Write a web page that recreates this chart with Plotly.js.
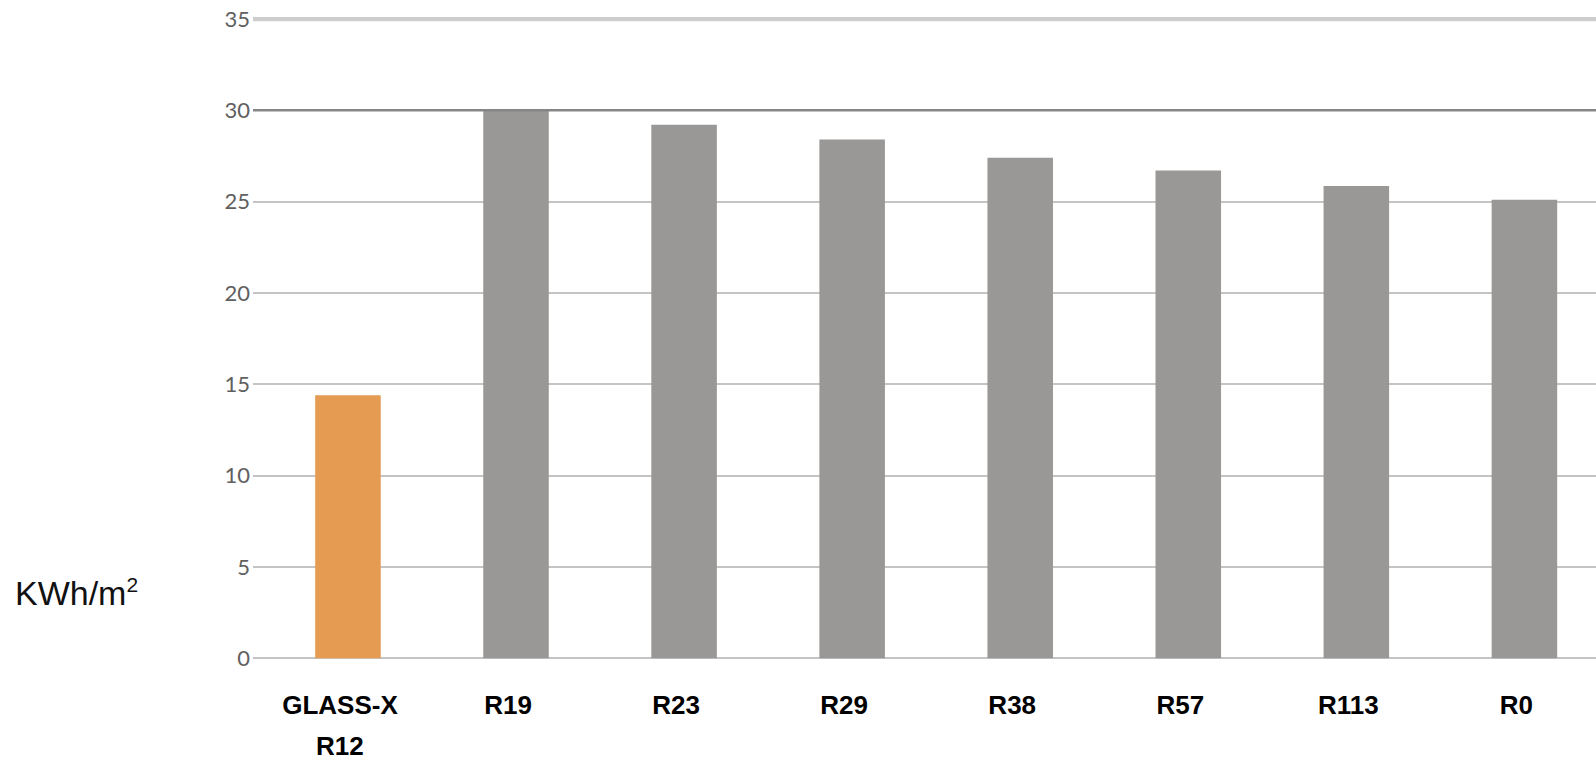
<!DOCTYPE html>
<html>
<head>
<meta charset="utf-8">
<script src="https://cdn.plot.ly/plotly-3.0.1.min.js"></script>
<style>
  html, body { margin: 0; padding: 0; background: #fff; }
  #chart { width: 1596px; height: 760px; }
</style>
</head>
<body>
<div id="chart"></div>
<script>
// ---- data ----
const categories = ['GLASS-X R12', 'R19', 'R23', 'R29', 'R38', 'R57', 'R113', 'R0'];
const tickLabels = ['GLASS-X', 'R19', 'R23', 'R29', 'R38', 'R57', 'R113', 'R0'];
const subLabels  = ['R12', '', '', '', '', '', '', ''];
const values     = [14.4, 30.0, 29.2, 28.4, 27.4, 26.7, 25.85, 25.1];
const yTickVals  = [0, 5, 10, 15, 20, 25, 30, 35];
const yUnitMain  = 'KWh/m';
const yUnitSup   = '2';

// ---- styles ----
const orange = '#E69B52';
const grey = '#9A9896';
const barColors = categories.map((c, i) => i === 0 ? orange : grey);
const labelFont = { family: 'Liberation Sans, Arial, sans-serif', size: 26, color: '#000' };

const trace = {
  type: 'bar',
  x: categories,
  y: values,
  marker: { color: barColors, line: { width: 0 } },
  hoverinfo: 'x+y'
};

const annotations = [{
  text: yUnitMain + '<span style="font-size:30px"><sup>' + yUnitSup + '</sup></span>',
  xref: 'paper', yref: 'paper',
  x: -0.179, y: 0.105,
  xanchor: 'left', yanchor: 'middle',
  showarrow: false,
  font: { family: 'Liberation Sans, Arial, sans-serif', size: 34, color: '#111' }
}];
categories.forEach((c, i) => {
  if (subLabels[i]) {
    annotations.push({
      text: '<b>' + subLabels[i] + '</b>',
      x: c, xref: 'x',
      y: 0, yref: 'paper',
      yanchor: 'middle', xanchor: 'center',
      yshift: -86,
      xshift: -8,
      showarrow: false,
      font: labelFont
    });
  }
});

const shapes = [
  { type: 'line', xref: 'paper', x0: 0, x1: 1, yref: 'y', y0: yTickVals[7], y1: yTickVals[7],
    line: { color: '#cdcdcd', width: 5 }, layer: 'above' },
  { type: 'line', xref: 'paper', x0: 0, x1: 1, yref: 'y', y0: yTickVals[6], y1: yTickVals[6],
    line: { color: '#868686', width: 2.5 }, layer: 'above' }
];

const layout = {
  width: 1596, height: 760,
  margin: { l: 253, r: 0, t: 17, b: 100 },
  paper_bgcolor: '#fff', plot_bgcolor: '#fff',
  bargap: 0.61,
  showlegend: false,
  xaxis: {
    type: 'category',
    range: [-0.565, 7.426],
    tickvals: categories,
    ticktext: tickLabels.map(t => '<b>' + t + '</b>'),
    ticks: '',
    showgrid: false,
    showline: false,
    zeroline: false,
    ticklabelstandoff: 27,
    ticklabelshift: -8,
    tickfont: labelFont
  },
  yaxis: {
    range: [-0.1, 35.1],
    tickvals: yTickVals,
    ticks: '',
    showgrid: true,
    gridcolor: '#c4c4c4',
    gridwidth: 2,
    zeroline: false,
    showline: false,
    ticklabelstandoff: 2,
    tickfont: { family: 'Lato, Open Sans, sans-serif', size: 22, color: '#606060' }
  },
  shapes: shapes,
  annotations: annotations
};

Plotly.newPlot('chart', [trace], layout, { displayModeBar: false, staticPlot: true });
</script>
</body>
</html>
